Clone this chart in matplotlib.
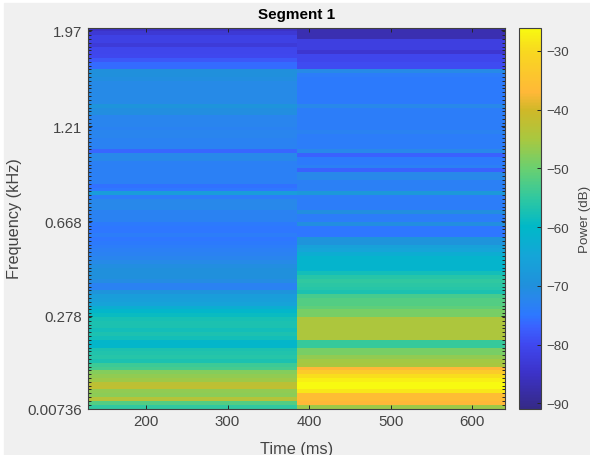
import numpy as np
import matplotlib
matplotlib.use("Agg")
import matplotlib.pyplot as plt
from matplotlib.colors import LinearSegmentedColormap
from matplotlib.patches import Rectangle

plt.rcParams['font.family'] = ['Liberation Sans', 'DejaVu Sans']

# values per frequency bin in dB, listed from the top of the plot down
left_db = [-85, -83.5, -81.5, -81.5, -83, -80.5, -80.5, -80, -78, -76,
           -76, -70, -70, -70.5, -71.5, -71.5, -71.5, -71.5, -71.5, -71.5,
           -69, -70.5, -70.5, -72.5, -72.5, -72.5, -73, -72.5, -72.5, -73,
           -73, -73, -76.5, -72, -72, -73.5, -73.5, -73.5, -73.5, -73.5,
           -73.5, -75.5, -75, -67, -74, -72, -72, -72, -73, -73,
           -73, -74.5, -75, -75, -74, -75, -74.5, -74, -73.5, -73,
           -72.5, -71.5, -70.5, -70, -70, -70, -71, -73, -73, -69,
           -67, -66.5, -65.5, -63, -60.5, -59, -57.5, -57, -57, -58,
           -57, -58, -60.5, -60.5, -57, -56.5, -56, -57, -54, -53,
           -48, -47, -46, -42.5, -42, -47, -47.5, -43.5, -52, -55]
right_db = [-87, -87, -87, -82, -82, -82, -84, -80.5, -80.5, -79.5,
            -79.5, -71.5, -74, -74.5, -74.5, -74.5, -74.5, -74.5, -74.5, -74.5,
            -72, -74, -74, -74, -74, -74, -74, -73, -74, -74,
            -74, -74, -72, -77, -74.5, -74.5, -73.5, -77, -72, -72,
            -73.5, -73.5, -73.5, -68, -74, -74, -74, -74, -70.5, -74,
            -74, -70.5, -75, -75, -75, -69, -69, -66, -65, -63,
            -61, -61, -61, -61, -58, -56, -55, -55.5, -56, -57,
            -53, -52, -52, -51, -49, -49, -44.5, -44.5, -44.5, -44.5,
            -44.5, -44.5, -54.5, -54.5, -49, -49, -47, -45.5, -45, -37,
            -33, -29.5, -27.5, -26, -26, -28.5, -36, -36, -37, -46]
time_edges = [129, 385, 640]
time_ticks = [200, 300, 400, 500, 600]
freq_pos = [0, 24.3, 49.2, 74.1, 99.3]
freq_labels = ['0.00736', '0.278', '0.668', '1.21', '1.97']
cbar_ticks = [-30, -40, -50, -60, -70, -80, -90]

# colours as they show on the colorbar
cmap_db = [-91, -85, -80, -77, -75, -72, -70, -65, -60, -55, -50, -45, -40, -37, -30, -26]
cmap_colors = ['#352a87', '#3c32c8', '#3f48f0', '#3a62ff', '#2d78ff', '#2888ea', '#2090dc', '#15a5d8',
               '#00b8c8', '#30c8a0', '#6ad070', '#a8c840', '#d0b828', '#ffb838', '#f8d820', '#f8fa10']
vmin, vmax = -90.9, -26.0
stops = [(np.clip((d - vmin) / (vmax - vmin), 0, 1), c) for d, c in zip(cmap_db, cmap_colors)]
parula = LinearSegmentedColormap.from_list('parula_like', stops, N=256)

W, H = 590, 456
BG = '#f0f0f0'
TXT = '#444444'

fig = plt.figure(figsize=(W / 100, H / 100), dpi=100, facecolor='white')
fig.patches.append(Rectangle((4 / W, 0), 1, 1 - 4 / H, transform=fig.transFigure, color=BG, zorder=-10))

ax = fig.add_axes([88 / W, 1 - 409.5 / H, 417 / W, 381 / H])
data = np.array([left_db, right_db]).T[::-1]
mesh = ax.pcolormesh(time_edges, np.arange(101), data, cmap=parula, vmin=vmin, vmax=vmax)
ax.set_xlim(time_edges[0], time_edges[-1])
ax.set_ylim(0, 100)

ax.set_xticks(time_ticks)
ax.set_yticks(freq_pos)
ax.set_yticklabels(freq_labels)
ax.set_yticks(np.arange(0, 100), minor=True)
ax.tick_params(axis='both', which='major', direction='in', length=3, width=0.7, color='#262626',
               labelsize=10.8, labelcolor=TXT, top=True, right=True, pad=4)
ax.tick_params(axis='y', which='minor', direction='in', length=2, width=0.7, color='#262626', right=True)
for s in ax.spines.values():
    s.set_color('#404040')
    s.set_linewidth(0.8)

ax.set_title('Segment 1', fontsize=11, fontweight='bold', color='black', pad=7)
ax.set_xlabel('Time (ms)', fontsize=11.7, color=TXT, labelpad=9)
ax.set_ylabel('Frequency (kHz)', fontsize=11.7, color=TXT, labelpad=4)

cax = fig.add_axes([518.5 / W, 1 - 409.5 / H, 22.5 / W, 381 / H])
cb = fig.colorbar(mesh, cax=cax)
cb.set_ticks(cbar_ticks)
cax.tick_params(direction='in', length=3, width=0.7, color='#262626', labelsize=9.6, labelcolor=TXT, pad=4)
cb.outline.set_edgecolor('#404040')
cb.outline.set_linewidth(0.8)
cb.set_label('Power (dB)', fontsize=9.6, color=TXT, labelpad=7)

fig.savefig('out.png', dpi=100, facecolor=fig.get_facecolor())
